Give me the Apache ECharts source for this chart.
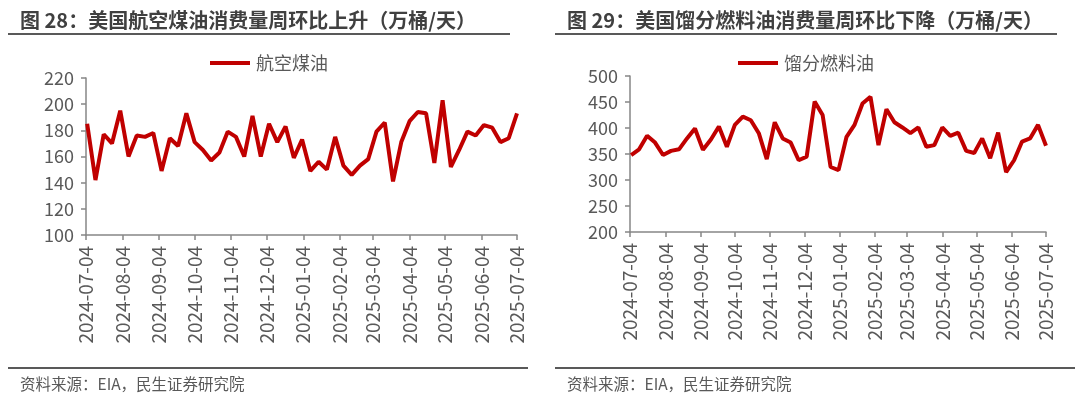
<!DOCTYPE html>
<html>
<head>
<meta charset="utf-8">
<title>美国航空煤油与馏分燃料油消费量</title>
<script src="https://cdn.jsdelivr.net/npm/echarts@6/dist/echarts.min.js"></script>
<style>
  html, body { margin: 0; padding: 0; background: #fff; }
  #chart { width: 1080px; height: 397px; }
</style>
</head>
<body>
<div id="chart"></div>
<script>
// 周度日期（EIA 周报，周五）
const weeks = [
  '2024-07-05', '2024-07-12', '2024-07-19', '2024-07-26', '2024-08-02', '2024-08-09', '2024-08-16',
  '2024-08-23', '2024-08-30', '2024-09-06', '2024-09-13', '2024-09-20', '2024-09-27', '2024-10-04',
  '2024-10-11', '2024-10-18', '2024-10-25', '2024-11-01', '2024-11-08', '2024-11-15', '2024-11-22',
  '2024-11-29', '2024-12-06', '2024-12-13', '2024-12-20', '2024-12-27', '2025-01-03', '2025-01-10',
  '2025-01-17', '2025-01-24', '2025-01-31', '2025-02-07', '2025-02-14', '2025-02-21', '2025-02-28',
  '2025-03-07', '2025-03-14', '2025-03-21', '2025-03-28', '2025-04-04', '2025-04-11', '2025-04-18',
  '2025-04-25', '2025-05-02', '2025-05-09', '2025-05-16', '2025-05-23', '2025-05-30', '2025-06-06',
  '2025-06-13', '2025-06-20', '2025-06-27', '2025-07-04'
];

// 航空煤油消费量（万桶/天）
const jetFuel = [
  185, 142, 177, 170, 195, 160, 176, 175, 178, 149,
  174, 168, 193, 171, 165, 157, 163, 179, 175, 160,
  191, 160, 185, 171, 183, 159, 173, 149, 156, 150,
  175, 153, 146, 153, 158, 179, 186, 141, 171, 187,
  194, 193, 155, 203, 152, 165, 179, 176, 184, 182,
  171, 174, 193
];

// 馏分燃料油消费量（万桶/天）
const distillate = [
  348, 359, 385, 372, 348, 356, 359, 380, 399, 358,
  378, 403, 364, 406, 422, 415, 390, 340, 411, 380,
  372, 338, 345, 451, 425, 325, 319, 383, 406, 447,
  460, 367, 436, 411, 401, 390, 401, 364, 367, 401,
  385, 391, 356, 352, 380, 342, 391, 315, 338, 374,
  380, 406, 366
];

// x 轴刻度标签（每月 4 日）
const monthTicks = [
  '2024-07-04', '2024-08-04', '2024-09-04', '2024-10-04', '2024-11-04', '2024-12-04', '2025-01-04',
  '2025-02-04', '2025-03-04', '2025-04-04', '2025-05-04', '2025-06-04', '2025-07-04'
];

const FONT = '"Noto Sans CJK SC", "Noto Sans", sans-serif';
const RED = '#C00000';
const AXIS_GRAY = '#868686';
const TEXT_GRAY = '#595959';

// 本地时间解析，避免时区偏移
function toTime(s) {
  const p = s.split('-').map(Number);
  return new Date(p[0], p[1] - 1, p[2]).getTime();
}

function fmtDate(v) {
  const d = new Date(v);
  const mm = String(d.getMonth() + 1).padStart(2, '0');
  const dd = String(d.getDate()).padStart(2, '0');
  return d.getFullYear() + '-' + mm + '-' + dd;
}

const tickTimes = monthTicks.map(toTime);

// x 轴用数值轴承载时间戳，刻度落在每月 4 日
function xAxisFor(gridIndex) {
  return {
    type: 'value',
    gridIndex: gridIndex,
    min: tickTimes[0],
    max: tickTimes[tickTimes.length - 1],
    axisLine: { onZero: false, lineStyle: { color: AXIS_GRAY, width: 1.5 } },
    axisTick: { show: true, length: 5, customValues: tickTimes, lineStyle: { color: AXIS_GRAY, width: 1.5 } },
    axisLabel: {
      customValues: tickTimes,
      rotate: 90,
      margin: 11,
      fontSize: 19,
      color: TEXT_GRAY,
      fontFamily: FONT,
      formatter: (v) => fmtDate(v)
    },
    splitLine: { show: false }
  };
}

function yAxisFor(gridIndex, min, max, interval) {
  return {
    type: 'value',
    gridIndex: gridIndex,
    min: min,
    max: max,
    interval: interval,
    axisLine: { show: true, lineStyle: { color: AXIS_GRAY, width: 1.5 } },
    axisTick: { show: true, length: 5, lineStyle: { color: AXIS_GRAY, width: 1.5 } },
    axisLabel: { fontSize: 18, color: TEXT_GRAY, fontFamily: FONT, margin: 12 },
    splitLine: { show: false }
  };
}

function legendFor(left, name) {
  return {
    left: left,
    top: 54,
    padding: 0,
    itemWidth: 40,
    itemHeight: 4,
    itemGap: 6,
    icon: 'rect',
    data: [name],
    textStyle: { fontSize: 18, color: TEXT_GRAY, fontFamily: FONT, padding: [0, 0, 0, 1] }
  };
}

function titleFor(left, top, text, size, bold) {
  return {
    text: text,
    left: left,
    top: top,
    padding: 0,
    textStyle: { fontSize: size, fontWeight: bold ? 'bold' : 'normal', color: bold ? '#404040' : TEXT_GRAY, fontFamily: FONT }
  };
}

function hline(x1, x2, y) {
  return {
    type: 'line',
    shape: { x1: x1, y1: y, x2: x2, y2: y },
    style: { stroke: '#595959', lineWidth: 2 },
    silent: true
  };
}

const chart = echarts.init(document.getElementById('chart'), null, { renderer: 'canvas' });

chart.setOption({
  animation: false,
  backgroundColor: '#fff',
  title: [
    titleFor(20, 10, '图 28：美国航空煤油消费量周环比上升（万桶/天）', 20, true),
    titleFor(567, 10, '图 29：美国馏分燃料油消费量周环比下降（万桶/天）', 20, true),
    titleFor(20, 376, '资料来源：EIA，民生证券研究院', 15.5, false),
    titleFor(567, 376, '资料来源：EIA，民生证券研究院', 15.5, false)
  ],
  legend: [legendFor(210, '航空煤油'), legendFor(738, '馏分燃料油')],
  grid: [
    { left: 86, right: 563, top: 78, bottom: 162 },
    { left: 630, right: 34, top: 76, bottom: 165 }
  ],
  xAxis: [xAxisFor(0), xAxisFor(1)],
  yAxis: [yAxisFor(0, 100, 220, 20), yAxisFor(1, 200, 500, 50)],
  series: [
    {
      name: '航空煤油',
      type: 'line',
      xAxisIndex: 0,
      yAxisIndex: 0,
      data: weeks.map((d, i) => [toTime(d), jetFuel[i]]),
      showSymbol: false,
      symbol: 'none',
      lineStyle: { color: RED, width: 4 },
      itemStyle: { color: RED }
    },
    {
      name: '馏分燃料油',
      type: 'line',
      xAxisIndex: 1,
      yAxisIndex: 1,
      data: weeks.map((d, i) => [toTime(d), distillate[i]]),
      showSymbol: false,
      symbol: 'none',
      lineStyle: { color: RED, width: 4 },
      itemStyle: { color: RED }
    }
  ],
  graphic: [
    hline(8, 510, 34),
    hline(555, 1057, 34),
    hline(8, 528, 368),
    hline(555, 1075, 368)
  ]
});
</script>
</body>
</html>
